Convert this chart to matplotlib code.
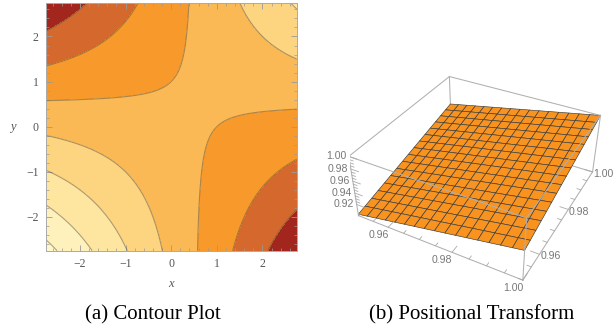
import numpy as np
import matplotlib
matplotlib.use("Agg")
import matplotlib.pyplot as plt
from matplotlib.ticker import MultipleLocator
from mpl_toolkits.mplot3d import proj3d

plt.rcParams["font.family"] = ["Liberation Serif", "DejaVu Serif"]

# ---------- (a) contour plot: f(x, y) = x*y - k*(x + y) ----------
contour_range = (-2.75, 2.75)
shift_coef = 0.5
contour_levels = [-8.0, -5.5, -3.0, -0.5, 2.0, 4.5, 7.0, 9.5, 11.0]
contour_colors = ["#a3261e", "#d5692d", "#f89a2b", "#fbb955",
                  "#fdd47f", "#fee6a1", "#fff1bb", "#fff7cc"]
frame_ticks = [-2, -1, 0, 1, 2]

# ---------- (b) surface z = x*y ----------
surf_range = (0.95, 1.0)
surf_points = 17
z_range = (0.90, 1.0)
xy_ticks = [0.96, 0.98, 1.00]
z_ticks = [0.92, 0.94, 0.96, 0.98, 1.00]
minor_step = 0.005

captions = ["(a) Contour Plot", "(b) Positional Transform"]

fig = plt.figure(figsize=(6.14, 3.33), dpi=100)

# ======================
# left: contour plot
# ======================
ax1 = fig.add_axes([0.0744, 0.247, 0.4088, 0.745])
g = np.linspace(contour_range[0], contour_range[1], 401)
X, Y = np.meshgrid(g, g)
F = X * Y - shift_coef * (X + Y)
ax1.contourf(X, Y, F, levels=contour_levels, colors=contour_colors)
ax1.contour(X, Y, F, levels=contour_levels[1:-1], colors="#6b5a40",
            linewidths=0.8, alpha=0.55, linestyles="solid")
ax1.set_xlim(contour_range)
ax1.set_ylim(contour_range)
ax1.set_xticks(frame_ticks)
ax1.set_yticks(frame_ticks)
ax1.xaxis.set_minor_locator(MultipleLocator(0.2))
ax1.yaxis.set_minor_locator(MultipleLocator(0.2))
ax1.tick_params(which="both", direction="in", top=True, right=True,
                colors="#999999", labelcolor="#555555", labelsize=8.5)
ax1.tick_params(which="major", length=4, width=0.6, pad=5)
ax1.tick_params(which="minor", length=2, width=0.5)
for sp in ax1.spines.values():
    sp.set_color("#aaaaaa")
    sp.set_linewidth(0.7)
ax1.set_xlabel("x", fontstyle="italic", color="#555555", fontsize=9, labelpad=6)
ax1.set_ylabel("y", fontstyle="italic", color="#555555", fontsize=9,
               rotation=0, labelpad=10, va="center")

# ======================
# right: 3D surface
# ======================
ax2 = fig.add_axes([0.5656, 0.1123, 0.4251, 0.7649], projection="3d")
ax2.set_proj_type("persp", focal_length=0.42)
ax2.view_init(elev=36, azim=-61.6)
ax2.set_box_aspect((1, 1, 0.4), zoom=1.0)
ax2.set_axis_off()
ax2.computed_zorder = False
x0, x1 = surf_range
y0, y1 = surf_range
z0, z1 = z_range
ax2.set_xlim(x0, x1)
ax2.set_ylim(y0, y1)
ax2.set_zlim(z0, z1)

s = np.linspace(x0, x1, surf_points)
SX, SY = np.meshgrid(s, s)
SZ = SX * SY
ax2.plot_surface(SX, SY, SZ, color="#f7931e", edgecolor="#3a3a3a",
                 linewidth=0.45, shade=False, rstride=1, cstride=1, zorder=2)

# box edges: the three touching the hidden back-bottom corner go under the surface
box_kw = dict(color="#b0b0b0", linewidth=0.75)
for yy in (y0, y1):
    for zz in (z0, z1):
        back = (yy == y1 and zz == z0)
        ax2.plot([x0, x1], [yy, yy], [zz, zz], zorder=1 if back else 3, **box_kw)
for xx in (x0, x1):
    for zz in (z0, z1):
        back = (xx == x0 and zz == z0)
        ax2.plot([xx, xx], [y0, y1], [zz, zz], zorder=1 if back else 3, **box_kw)
for xx in (x0, x1):
    for yy in (y0, y1):
        back = (xx == x0 and yy == y1)
        ax2.plot([xx, xx], [yy, yy], [z0, z1], zorder=1 if back else 3, **box_kw)

tick_kw = dict(color="#aaaaaa", linewidth=0.6, zorder=3)
for t in np.arange(x0, x1 + 1e-9, minor_step):
    major = any(abs(t - m) < 1e-9 for m in xy_ticks)
    d = 0.0025 if major else 0.0012
    ax2.plot([t, t], [y0, y0 + d], [z0, z0], **tick_kw)
    ax2.plot([x1, x1 - d], [t, t], [z0, z0], **tick_kw)
for t in np.arange(0.92, z1 + 1e-9, minor_step):
    major = any(abs(t - m) < 1e-9 for m in z_ticks)
    d = 0.0025 if major else 0.0012
    ax2.plot([x0, x0 + d], [y0, y0], [t, t], **tick_kw)

# tick labels: project the 3D anchor, then offset on screen
M = ax2.get_proj()
lab_kw = dict(color="#777777", fontsize=7.6, family="Liberation Sans",
              va="center", textcoords="offset points", xycoords="data",
              annotation_clip=False)


def label3d(x, y, z, text, dx, dy, ha):
    px, py, _ = proj3d.proj_transform(x, y, z, M)
    ax2.annotate(text, xy=(px, py), xytext=(dx, dy), ha=ha, **lab_kw)


for t in xy_ticks:
    label3d(t, y0, z0, f"{t:.2f}", -7, -5.5, "center")
    label3d(x1, t, z0, f"{t:.2f}", 0.5, -1.5, "left")
for t in z_ticks:
    label3d(x0, y0, t, f"{t:.2f}", -2, 0, "right")

# ---------- captions ----------
fig.text(153 / 614, 1 - 315 / 333, captions[0], ha="center", va="center", fontsize=15)
fig.text(472 / 614, 1 - 315 / 333, captions[1], ha="center", va="center", fontsize=15)

fig.savefig("out.png", dpi=100)
